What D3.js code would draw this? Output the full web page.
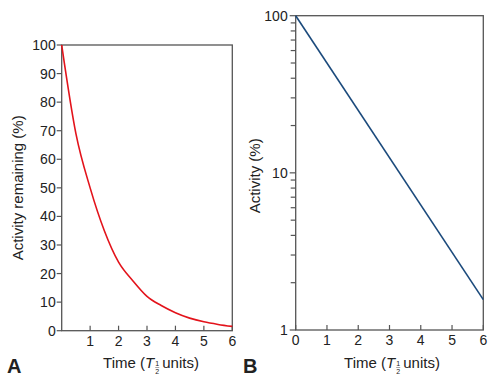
<!DOCTYPE html>
<html>
<head>
<meta charset="utf-8">
<script src="https://cdn.jsdelivr.net/npm/d3@7"></script>
<style>
  body { margin: 0; background: #fff; }
  text { font-family: "Liberation Sans", Arial, sans-serif; fill: #222; }
</style>
</head>
<body>
<script>
// half-life decay
var timeA = [0, 0.5, 1, 1.5, 2, 2.5, 3, 3.5, 4, 4.5, 5, 5.5, 6]
var activityA = [100, 69, 50, 35, 24, 17.5, 12, 8.8, 6.3, 4.4, 3.1, 2.2, 1.5]
var timeB = [0, 6]
var activityB = [100, 1.56]
var ticksA = [0, 10, 20, 30, 40, 50, 60, 70, 80, 90, 100]
var xTicksA = [1, 2, 3, 4, 5, 6]
var xTicksB = [0, 1, 2, 3, 4, 5, 6]
var majorB = [1, 10, 100]
var minorB = [2, 3, 4, 5, 6, 7, 8, 9, 20, 30, 40, 50, 60, 70, 80, 90]

var width = 500, height = 383
var svg = d3.select("body").append("svg")
    .attr("width", width)
    .attr("height", height)

var axisColor = "#555"

function frame(x, y) {
    svg.append("rect")
        .attr("x", x.range()[0]).attr("y", y.range()[1])
        .attr("width", x.range()[1] - x.range()[0])
        .attr("height", y.range()[0] - y.range()[1])
        .attr("fill", "none").attr("stroke", axisColor).attr("stroke-width", 1.3)
}

function xAxis(x, y, ticks) {
    var g = svg.append("g")
    g.selectAll("line").data(ticks).enter().append("line")
        .attr("x1", x).attr("x2", x)
        .attr("y1", y.range()[0]).attr("y2", y.range()[0] - 5)
        .attr("stroke", axisColor).attr("stroke-width", 1.2)
    g.selectAll("text").data(ticks).enter().append("text")
        .attr("x", x).attr("y", y.range()[0] + 15)
        .attr("text-anchor", "middle").attr("font-size", 14)
        .text(function(d) { return d })
}

function timeLabel(cx, cy) {
    var g = svg.append("g")
    var t = g.append("text").attr("y", cy).attr("font-size", 15)
    t.append("tspan").text("Time (")
    t.append("tspan").attr("font-style", "italic").text("T")
    var w1 = t.node().getComputedTextLength()
    t.append("tspan").attr("dx", 8).text("units)")
    var w = t.node().getComputedTextLength()
    var x0 = cx - w / 2
    t.attr("x", x0)
    var fx = x0 + w1 + 3
    g.append("text").attr("x", fx).attr("y", cy - 2).attr("font-size", 7)
        .attr("text-anchor", "middle").text("1")
    g.append("line").attr("x1", fx - 2).attr("x2", fx + 2)
        .attr("y1", cy - 0.5).attr("y2", cy - 0.5).attr("stroke", "#666").attr("stroke-width", 0.6)
    g.append("text").attr("x", fx).attr("y", cy + 6).attr("font-size", 7)
        .attr("text-anchor", "middle").attr("fill", "#777").text("2")
}

// panel A
var xA = d3.scaleLinear().domain([0, 6]).range([61.7, 232.3])
var yA = d3.scaleLinear().domain([0, 100]).range([330.7, 45])

frame(xA, yA)
svg.append("g").selectAll("line").data(ticksA).enter().append("line")
    .attr("x1", xA.range()[0] - 5).attr("x2", xA.range()[0])
    .attr("y1", yA).attr("y2", yA)
    .attr("stroke", axisColor).attr("stroke-width", 1.2)
svg.append("g").selectAll("text").data(ticksA).enter().append("text")
    .attr("x", xA.range()[0] - 6).attr("y", function(d) { return yA(d) + 5 })
    .attr("text-anchor", "end").attr("font-size", 14)
    .text(function(d) { return d })
xAxis(xA, yA, xTicksA)

svg.append("path")
    .datum(d3.zip(timeA, activityA))
    .attr("fill", "none").attr("stroke", "#e3131b").attr("stroke-width", 1.6)
    .attr("d", d3.line()
        .x(function(d) { return xA(d[0]) })
        .y(function(d) { return yA(d[1]) })
        .curve(d3.curveMonotoneX))

svg.append("text")
    .attr("transform", "translate(23," + yA(50) + ") rotate(-90)")
    .attr("text-anchor", "middle").attr("font-size", 15)
    .text("Activity remaining (%)")
timeLabel(147, 368)
svg.append("text").attr("x", 7).attr("y", 373)
    .attr("font-size", 20).attr("font-weight", "bold").text("A")

// panel B
var xB = d3.scaleLinear().domain([0, 6]).range([295.7, 483.3])
var yB = d3.scaleLog().domain([1, 100]).range([330, 15.7])

frame(xB, yB)
svg.append("g").selectAll("line").data(majorB.concat(minorB)).enter().append("line")
    .attr("x1", function(d) { return xB.range()[0] - (majorB.indexOf(d) >= 0 ? 6 : 5) })
    .attr("x2", xB.range()[0])
    .attr("y1", yB).attr("y2", yB)
    .attr("stroke", axisColor).attr("stroke-width", 1.2)
svg.append("g").selectAll("text").data(majorB).enter().append("text")
    .attr("x", xB.range()[0] - 8).attr("y", function(d) { return yB(d) + 5 })
    .attr("text-anchor", "end").attr("font-size", 14)
    .text(function(d) { return d })
xAxis(xB, yB, xTicksB)

svg.append("path")
    .datum(d3.zip(timeB, activityB))
    .attr("fill", "none").attr("stroke", "#1b4a7c").attr("stroke-width", 1.6)
    .attr("d", d3.line()
        .x(function(d) { return xB(d[0]) })
        .y(function(d) { return yB(d[1]) }))

svg.append("text")
    .attr("transform", "translate(260," + (yB(10) + 3) + ") rotate(-90)")
    .attr("text-anchor", "middle").attr("font-size", 15)
    .text("Activity (%)")
timeLabel(388, 368)
svg.append("text").attr("x", 243).attr("y", 373)
    .attr("font-size", 20).attr("font-weight", "bold").text("B")
</script>
</body>
</html>
